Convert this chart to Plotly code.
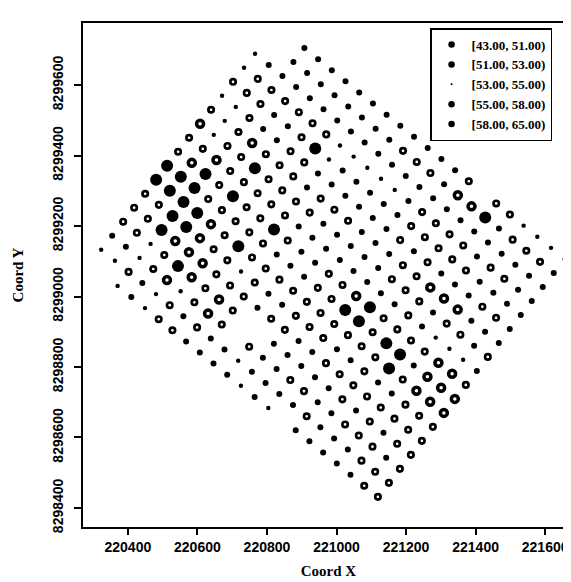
import plotly.graph_objects as go

# ---- data -------------------------------------------------------------
CLASS_LABELS = ["[43.00, 51.00)", "[51.00, 53.00)", "[53.00, 55.00)",
                "[55.00, 58.00)", "[58.00, 65.00)"]
CLASS_CODES = ["s", "d", "r", "R", "B"]

# regular sampling grid (origin = top sample, two grid step vectors, metres)
GRID_X0 = 220907.7
GRID_Y0 = 8299705.0
STEP_A = (39.4, -31.5)    # along rows (down-right)
STEP_B = (-31.6, -39.7)   # between rows (down-left)
I_START = -2

# class code of every sample, one string per grid row ('.' = no sample)
ROWS = [
    "..ddddddddddddr.rrssss",
    "..ddddddddrrrdRRBdrrrd",
    "sddddddddddddddddddddd",
    "srrrrrrsssssdrrrrdrrdd",
    "rrrddrBsdddddrrrrrdddd",
    "ssrddrrddddddrdrdddrrd",
    "rsrRrrrdrrrdddrrRRRddd",
    "RsrrBrrrrdddddrrrdrrdr",
    "rrRrrrrrddddddddrdsssd",
    "rRBrBrrBrddrrRBrrrrRRr",
    "BBBrrrrrdddrrBBrBBdRRR",
    "BBBBRrBrrrrrrrrrrBrRRR",
    "rrBBRrrsrddrrrddrddrrr",
    "rrBRRRrrrdrrddrrrrrrrr",
    "rrsrBRrRr..dddddrdrdrr",
    "ddsrRsrRr.rddrrddrrrdr",
    "ssrdsrdrddsddddrdddrrr",
    "..sdsrrddddsds.dddddrr",
]

X_TICKS = [220400, 220600, 220800, 221000, 221200, 221400, 221600]
Y_TICKS = [8298400, 8298600, 8298800, 8299000, 8299200, 8299400, 8299600]
X_RANGE = [220271, 221683]
Y_RANGE = [8298346, 8299776]

# ---- marker styles per class -----------------------------------------
STYLE = {
    "s": dict(size=4.4, color="black", line=dict(width=0, color="black")),
    "d": dict(size=6.0, color="black", line=dict(width=0, color="black")),
    "r": dict(size=5.4, color="white", line=dict(width=2.7, color="black")),
    "R": dict(size=7.0, color="white", line=dict(width=3.5, color="black")),
    "B": dict(size=12.0, color="black", line=dict(width=0, color="black")),
}

pts = {c: ([], []) for c in CLASS_CODES}
for j, row in enumerate(ROWS):
    for k, code in enumerate(row):
        if code not in pts:
            continue
        i = I_START + k
        pts[code][0].append(GRID_X0 + i * STEP_A[0] + j * STEP_B[0])
        pts[code][1].append(GRID_Y0 + i * STEP_A[1] + j * STEP_B[1])

fig = go.Figure()
for code, label in zip(CLASS_CODES, CLASS_LABELS):
    xs, ys = pts[code]
    fig.add_trace(go.Scatter(x=xs, y=ys, mode="markers", name=label,
                             marker=STYLE[code], showlegend=False,
                             hoverinfo="x+y+name"))

# legend entries (as drawn in the reference key)
LEGEND_SIZES = [6.5, 6.5, 2, 6.5, 6.5]
for label, sz in zip(CLASS_LABELS, LEGEND_SIZES):
    fig.add_trace(go.Scatter(x=[None], y=[None], mode="markers", name=label,
                             marker=dict(size=sz, color="black")))

tick_font = dict(family="Liberation Sans, Arial, sans-serif", size=14,
                 color="black", weight="bold")
title_font = dict(family="Liberation Serif, Times New Roman, serif", size=15,
                  color="black", weight="bold")

fig.update_layout(
    width=571, height=582,
    margin=dict(l=75, r=3, t=15, b=63),
    paper_bgcolor="white", plot_bgcolor="white",
    showlegend=True,
    legend=dict(x=0.9553, y=0.99, xanchor="right", yanchor="top",
                bordercolor="black", borderwidth=1.5, bgcolor="white",
                font=dict(family="Liberation Serif, Times New Roman, serif",
                          size=13, color="black", weight="bold"),
                itemsizing="trace"),
    xaxis=dict(range=X_RANGE, tickvals=X_TICKS,
               ticktext=[str(v) for v in X_TICKS],
               showgrid=False, zeroline=False,
               showline=True, linecolor="black", linewidth=1.5, mirror=True,
               ticks="outside", ticklen=6, tickwidth=1.5, tickcolor="black",
               tickfont=tick_font, ticklabelstandoff=0,
               title=dict(text="Coord X", font=title_font, standoff=12)),
    yaxis=dict(range=Y_RANGE, tickvals=Y_TICKS,
               ticktext=[str(v) for v in Y_TICKS],
               showgrid=False, zeroline=False,
               showline=True, linecolor="black", linewidth=1.5, mirror=True,
               ticks="outside", ticklen=7, tickwidth=1.5, tickcolor="black",
               tickangle=-90, tickfont=tick_font, ticklabelstandoff=6,
               title=dict(text="Coord Y", font=title_font, standoff=22)),
)

fig.write_html("out.html")
